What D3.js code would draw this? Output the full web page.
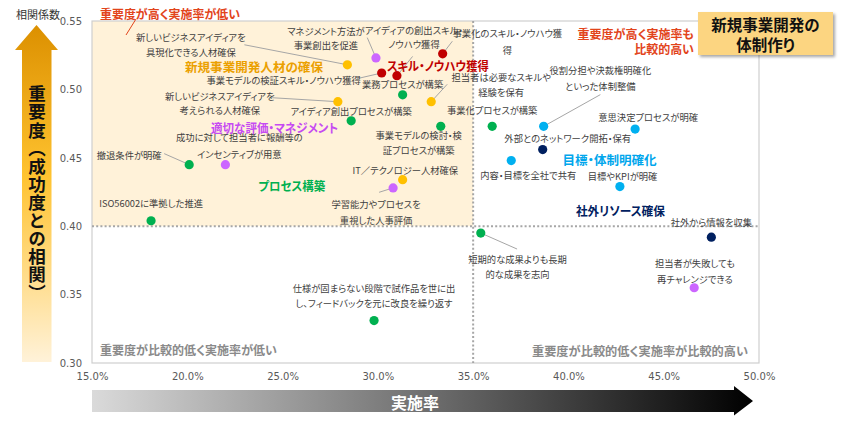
<!DOCTYPE html>
<html><head><meta charset="utf-8">
<script src="https://cdn.jsdelivr.net/npm/d3@7"></script>
<style>
html,body{margin:0;padding:0;background:#fff;}
svg{display:block;font-family:"Noto Sans CJK JP","Noto Sans",sans-serif;}
.jp{font-feature-settings:"palt";}
</style></head><body>
<svg id="chart" width="846" height="430"></svg>
<script>
// ---------- data ----------
const items = [
  "新しいビジネスアイディアを\n具現化できる人材確保",
  "マネジメント方法が\n事業創出を促進",
  "事業化のスキル・ノウハウ獲\n得",
  "アイディアの創出スキル・\nノウハウ獲得",
  "事業モデルの検証スキル・ノウハウ獲得",
  "業務プロセスが構築",
  "担当者は必要なスキルや\n経験を保有",
  "新しいビジネスアイディアを\n考えられる人材確保",
  "アイディア創出プロセスが構築",
  "事業モデルの検討・検\n証プロセスが構築",
  "事業化プロセスが構築",
  "役割分担や決裁権明確化\nといった体制整備",
  "外部とのネットワーク開拓・保有",
  "意思決定プロセスが明確",
  "内容・目標を全社で共有",
  "目標やKPIが明確",
  "IT／テクノロジー人材確保",
  "学習能力やプロセスを\n重視した人事評価",
  "撤退条件が明確",
  "成功に対して担当者に報酬等の\nインセンティブが用意",
  "ISO56002に準拠した推進",
  "短期的な成果よりも長期\n的な成果を志向",
  "社外から情報を収集",
  "担当者が失敗しても\n再チャレンジできる",
  "仕様が固まらない段階で試作品を世に出\nし、フィードバックを元に改良を繰り返す"
];
// 実施率 (%)
const implRate = [28.4, 29.9, 33.4, 31.0, 30.2, 31.3, 32.8, 27.9, 28.6, 33.3, 36.0, 38.7, 38.65,
                  43.5, 37.0, 42.7, 31.3, 30.8, 20.1, 22.0, 18.1, 35.4, 47.5, 46.6, 29.8];
// 相関係数
const corr = [0.518, 0.523, 0.526, 0.510, 0.512, 0.496, 0.491, 0.491, 0.477, 0.473, 0.473, 0.473, 0.456,
              0.471, 0.448, 0.429, 0.434, 0.428, 0.445, 0.445, 0.404, 0.395, 0.392, 0.355, 0.331];
// group index of each item
const groupOf = [0, 1, 2, 2, 2, 3, 0, 0, 3, 3, 3, 4, 5, 4, 4, 4, 0, 1, 3, 1, 3, 3, 5, 1, 3];
const groupNames = ["新規事業開発人材の確保", "適切な評価・マネジメント", "スキル・ノウハウ獲得",
                    "プロセス構築", "目標・体制明確化", "社外リソース確保"];
const xTicks = [15, 20, 25, 30, 35, 40, 45, 50];
const yTicks = [0.30, 0.35, 0.40, 0.45, 0.50, 0.55];
const quadrantNames = ["重要度が高く実施率が低い", "重要度が高く実施率も\n比較的高い",
                       "重要度が比較的低く実施率が低い", "重要度が比較的低く実施率が比較的高い"];

// ---------- styles / layout ----------
const dotColors = ["#FFC000", "#CC66FF", "#C00000", "#00B050", "#00B0F0", "#002060"];
const groupTextColors = ["#EBA000", "#C64BF2", "#C00000", "#00B050", "#00A6EC", "#002060"];
const groupTextWidths = [138, 127, 102, 67, 94, 89];
// label offset from dot [dx, dy of first line], leader start offset (or null)
const labelLayout = [
  [-156.5, -27.3, [-103, -20]], [-50, -26.6, [-8.7, -20.3]], [64.7, -21, [9.7, -12.6]],
  [17, -46, [15.7, -19.3]], [-98, 6.7, [-24.7, 5.7]], [0, -11, null],
  [70, -24.4, [16, -17.4]], [-118, -5.3, [-65.7, -4]], [0, -9.6, null],
  [-22, 9, null], [0, -16.7, null], [56.7, -56.7, [56.7, -31.7]],
  [25, -11.4, null], [13, -12.3, null], [17, 14, null], [2.7, -10.7, null],
  [2.7, -9.3, null], [-17, 15.7, [-14, 4.4]], [-60, -10, [-25, -11]],
  [14, -27.6, null], [0, -17.3, null], [36.8, 25.7, [36.3, 16]],
  [0, -15.4, null], [0.7, -24.3, null], [0, -32.7, null]
];
const lineGap = [14.6,13.3,16.7,14.7,15,15,14.4,13.6,15,15,15,16,15,15,15,15,15,16,15,16.6,15,15,15,16,15.4];
const groupLabelPos = [[23.5, 0.5166], [24.58, 0.4725], [33.15, 0.5178], [25.48, 0.4296], [42.16, 0.4489], [42.73, 0.4113]];

const m = {left: 92, right: 759, top: 21, bottom: 363};
const svg = d3.select("#chart");
const x = d3.scaleLinear().domain([15, 50]).range([m.left, m.right]);
const y = d3.scaleLinear().domain([0.30, 0.55]).range([m.bottom, m.top]);

const defs = svg.append("defs");
const gy = defs.append("linearGradient").attr("id", "gy").attr("x1", 0).attr("y1", 0).attr("x2", 0).attr("y2", 1);
gy.append("stop").attr("offset", 0).attr("stop-color", "#DC9000");
gy.append("stop").attr("offset", 0.45).attr("stop-color", "#FFC330");
gy.append("stop").attr("offset", 1).attr("stop-color", "#FFF2D9");
const gx = defs.append("linearGradient").attr("id", "gx").attr("x1", 0).attr("y1", 0).attr("x2", 1).attr("y2", 0);
gx.append("stop").attr("offset", 0).attr("stop-color", "#DADADA");
gx.append("stop").attr("offset", 0.5).attr("stop-color", "#707070");
gx.append("stop").attr("offset", 1).attr("stop-color", "#000");
const sh = defs.append("filter").attr("id", "sh").attr("x", -0.2).attr("y", -0.2).attr("width", 1.5).attr("height", 1.6);
sh.append("feDropShadow").attr("dx", 2).attr("dy", 2).attr("stdDeviation", 1.5).attr("flood-color", "#000").attr("flood-opacity", 0.35);

// highlighted quadrant
svg.append("rect").attr("x", x(15)).attr("y", y(0.55)).attr("width", x(35) - x(15)).attr("height", y(0.40) - y(0.55))
  .attr("fill", "#FFF2D9");
// frame
svg.append("rect").attr("x", m.left).attr("y", m.top).attr("width", m.right - m.left).attr("height", m.bottom - m.top)
  .attr("fill", "none").attr("stroke", "#CFCFCF").attr("stroke-width", 1.2);
// dotted split lines
svg.append("line").attr("x1", x(35)).attr("x2", x(35)).attr("y1", m.top).attr("y2", m.bottom)
  .attr("stroke", "#A6A6A6").attr("stroke-width", 2).attr("stroke-dasharray", "2,2.2");
svg.append("line").attr("x1", m.left).attr("x2", m.right).attr("y1", y(0.40)).attr("y2", y(0.40))
  .attr("stroke", "#A6A6A6").attr("stroke-width", 2).attr("stroke-dasharray", "2,2.2");

// axes tick labels
const yAxis = d3.axisLeft(y).tickValues(yTicks).tickFormat(d3.format(".2f")).tickSize(0).tickPadding(10);
const ya = svg.append("g").attr("transform", `translate(${m.left},0)`).call(yAxis);
ya.select(".domain").remove();
ya.selectAll("text").attr("fill", "#595959").attr("font-size", 10).attr("font-family", "DejaVu Sans");
const xAxis = d3.axisBottom(x).tickValues(xTicks).tickFormat(d => d.toFixed(1) + "%").tickSize(0).tickPadding(10);
const xa = svg.append("g").attr("transform", `translate(0,${m.bottom})`).call(xAxis);
xa.select(".domain").remove();
xa.selectAll("text").attr("fill", "#595959").attr("font-size", 10).attr("font-family", "DejaVu Sans");

// quadrant labels
const q = svg.append("g").attr("class", "jp");
q.append("text").attr("x", 100).attr("y", 13).attr("dominant-baseline", "central")
  .attr("font-size", 12).attr("font-weight", "bold").attr("fill", "#E2441B")
  .attr("textLength", 140).attr("lengthAdjust", "spacingAndGlyphs").text(quadrantNames[0]);
q.append("line").attr("x1", 136).attr("y1", 19).attr("x2", 126).attr("y2", 35).attr("stroke", "#E2441B").attr("stroke-width", 1);
quadrantNames[1].split("\n").forEach((t, i) => {
  q.append("text").attr("x", 694).attr("y", 33.3 + i * 14.7).attr("text-anchor", "end").attr("dominant-baseline", "central")
    .attr("font-size", 12).attr("font-weight", "bold").attr("fill", "#E2441B").text(t);
});
q.append("text").attr("x", 100).attr("y", 350).attr("dominant-baseline", "central")
  .attr("font-size", 12.3).attr("font-weight", "bold").attr("fill", "#8A8A8A")
  .attr("textLength", 177).attr("lengthAdjust", "spacingAndGlyphs").text(quadrantNames[2]);
q.append("text").attr("x", 748).attr("y", 350.5).attr("text-anchor", "end").attr("dominant-baseline", "central")
  .attr("font-size", 12.3).attr("font-weight", "bold").attr("fill", "#8A8A8A")
  .attr("textLength", 216).attr("lengthAdjust", "spacingAndGlyphs").text(quadrantNames[3]);

// data
const pts = items.map((name, i) => ({name, xv: implRate[i], yv: corr[i], g: groupOf[i], lay: labelLayout[i], gap: lineGap[i]}));

// leaders
svg.append("g").selectAll("line").data(pts.filter(d => d.lay[2])).join("line")
  .attr("x1", d => x(d.xv) + d.lay[2][0]).attr("y1", d => y(d.yv) + d.lay[2][1])
  .attr("x2", d => x(d.xv)).attr("y2", d => y(d.yv))
  .attr("stroke", "#A6A6A6").attr("stroke-width", 1);

// point labels
const lab = svg.append("g").attr("class", "jp");
pts.forEach(d => {
  d.name.split("\n").forEach((t, i) => {
    lab.append("text").attr("x", x(d.xv) + d.lay[0]).attr("y", y(d.yv) + d.lay[1] + i * d.gap)
      .attr("text-anchor", "middle").attr("dominant-baseline", "central")
      .attr("font-size", 9.3).attr("fill", "#404040").text(t);
  });
});

// dots
svg.append("g").selectAll("circle").data(pts).join("circle")
  .attr("cx", d => x(d.xv)).attr("cy", d => y(d.yv)).attr("r", 4.6)
  .attr("fill", d => dotColors[d.g]);

// group labels
svg.append("g").attr("class", "jp").selectAll("text").data(groupNames).join("text")
  .attr("x", (d, i) => x(groupLabelPos[i][0])).attr("y", (d, i) => y(groupLabelPos[i][1]))
  .attr("text-anchor", "middle").attr("dominant-baseline", "central")
  .attr("font-size", 12.5).attr("font-weight", "bold").attr("fill", (d, i) => groupTextColors[i])
  .attr("textLength", (d, i) => groupTextWidths[i]).attr("lengthAdjust", "spacingAndGlyphs").text(d => d);

// title box
const tb = svg.append("g");
tb.append("rect").attr("x", 698).attr("y", 12).attr("width", 135).attr("height", 43).attr("fill", "#FCD581").attr("filter", "url(#sh)");
["新規事業開発の", "体制作り"].forEach((t, i) => {
  tb.append("text").attr("class", "jp").attr("x", 765.5).attr("y", 24 + i * 19.5).attr("text-anchor", "middle").attr("dominant-baseline", "central")
    .attr("font-size", 15.5).attr("font-weight", "bold").attr("fill", "#111").text(t);
});

// y axis title
svg.append("text").attr("class", "jp").attr("x", 16).attr("y", 14).attr("dominant-baseline", "central")
  .attr("font-size", 11).attr("fill", "#333").text("相関係数");
svg.append("path").attr("d", "M22,50 L15,50 L36.5,25 L58,50 L51.5,50 L51.5,362 L22,362 Z").attr("fill", "url(#gy)");
svg.append("text").attr("x", 37).attr("y", 85).style("writing-mode", "vertical-rl")
  .attr("font-size", 17.5).attr("font-weight", "bold").attr("fill", "#111")
  .attr("letter-spacing", 0.6).text("重要度（成功度との相関）");

// x axis arrow
svg.append("path").attr("d", "M92,390 L734,390 L734,386 L753,401 L734,415.5 L734,412 L92,412 Z").attr("fill", "url(#gx)");
svg.append("text").attr("class", "jp").attr("x", 415).attr("y", 402).attr("text-anchor", "middle").attr("dominant-baseline", "central")
  .attr("font-size", 16).attr("font-weight", "bold").attr("fill", "#fff").text("実施率");
</script>
</body></html>
